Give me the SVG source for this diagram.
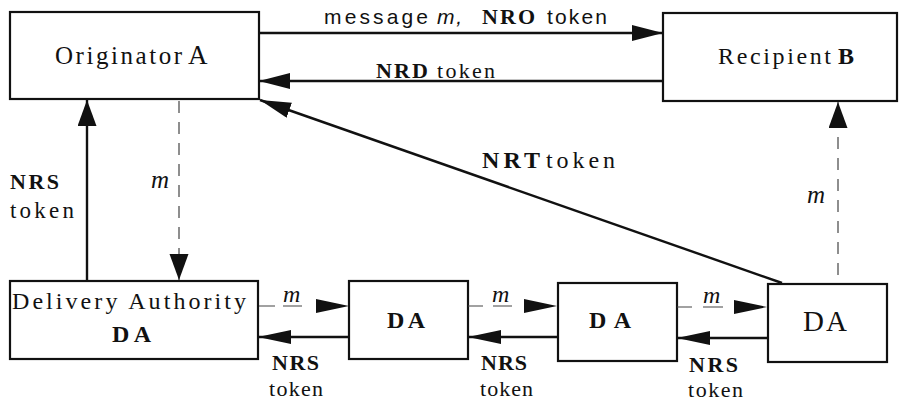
<svg xmlns="http://www.w3.org/2000/svg" width="907" height="401" viewBox="0 0 907 401">
  <style>
    .box { fill: #fff; stroke: #111; stroke-width: 2.2; }
    .serif { font-family: "Liberation Serif", "Times New Roman", serif; fill: #111; }
    .sans { font-family: "Liberation Sans", Arial, sans-serif; fill: #111; }
    .b { font-weight: bold; }
    .i { font-style: italic; }
    .solid { fill: none; stroke: #111; stroke-width: 2.4; }
    .dash { fill: none; stroke: #444; stroke-width: 1.2; }
  </style>
  <defs>
    <marker id="ah" markerUnits="userSpaceOnUse" markerWidth="32" markerHeight="17" refX="31" refY="8" orient="auto">
      <path d="M0,0 L31,8 L0,16 z" fill="#111"/>
    </marker>
    <marker id="av" markerUnits="userSpaceOnUse" markerWidth="27" markerHeight="20" refX="26" refY="9.5" orient="auto">
      <path d="M0,0 L26,9.5 L0,19 z" fill="#111"/>
    </marker>
    <marker id="ab" markerUnits="userSpaceOnUse" markerWidth="34" markerHeight="15" refX="33" refY="7" orient="auto">
      <path d="M0,0 L33,7 L0,14 z" fill="#111"/>
    </marker>
  </defs>

  <!-- nodes -->
  <g id="originator">
    <rect class="box" x="10" y="12" width="249" height="87"/>
    <text class="serif" x="55" y="64" font-size="25" textLength="127" lengthAdjust="spacing">Originator</text>
    <text class="serif" x="188" y="64" font-size="27">A</text>
  </g>
  <g id="recipient">
    <rect class="box" x="663" y="13" width="234" height="88"/>
    <text class="serif" x="718" y="64" font-size="24" textLength="113" lengthAdjust="spacing">Recipient</text>
    <text class="serif b" x="838" y="64" font-size="24">B</text>
  </g>
  <g id="da1">
    <rect class="box" x="10" y="281" width="248" height="78"/>
    <text class="serif" x="12" y="309" font-size="24" textLength="234" lengthAdjust="spacing">Delivery Authority</text>
    <text class="serif b" x="112" y="342" font-size="24" textLength="39" lengthAdjust="spacing">DA</text>
  </g>
  <g id="da2">
    <rect class="box" x="349" y="281" width="119" height="78"/>
    <text class="serif b" x="387" y="328" font-size="24" textLength="38" lengthAdjust="spacing">DA</text>
  </g>
  <g id="da3">
    <rect class="box" x="558" y="283" width="119" height="78"/>
    <text class="serif b" x="589" y="328" font-size="24" textLength="42" lengthAdjust="spacing">DA</text>
  </g>
  <g id="da4">
    <rect class="box" x="768" y="284" width="119" height="78"/>
    <text class="serif" x="803" y="331" font-size="29" textLength="44" lengthAdjust="spacing">DA</text>
  </g>

  <!-- connectors -->
  <g id="connectors">
    <!-- A to B: message m, NRO token -->
    <line class="solid" x1="259" y1="33" x2="663" y2="33" marker-end="url(#ah)"/>
    <!-- B to A: NRD token -->
    <line class="solid" x1="663" y1="81" x2="259" y2="81" marker-end="url(#ah)"/>
    <!-- last DA to A: NRT token -->
    <line class="solid" x1="782" y1="283" x2="260" y2="100" marker-end="url(#ah)"/>
    <!-- first DA to A: NRS token -->
    <line class="solid" x1="87" y1="281" x2="87" y2="100" marker-end="url(#av)"/>
    <!-- A to first DA: m -->
    <line class="dash" x1="179" y1="101" x2="179" y2="280" stroke-dasharray="12 9" marker-end="url(#av)"/>
    <!-- last DA to B: m -->
    <line class="dash" x1="838" y1="275" x2="838" y2="102" stroke-dasharray="12 9" marker-end="url(#av)"/>
    <!-- m along the DA chain -->
    <line class="dash" x1="259" y1="306" x2="349" y2="306" stroke-dasharray="16 8 19 100" marker-end="url(#ab)"/>
    <line class="dash" x1="468" y1="306" x2="557" y2="306" stroke-dasharray="15 10 19 100" marker-end="url(#ab)"/>
    <line class="dash" x1="677" y1="307" x2="767" y2="307" stroke-dasharray="15 11 20 100" marker-end="url(#ab)"/>
    <!-- NRS tokens back along the chain -->
    <line class="solid" x1="349" y1="337" x2="258" y2="337" marker-end="url(#ab)"/>
    <line class="solid" x1="558" y1="337" x2="468" y2="337" marker-end="url(#ab)"/>
    <line class="solid" x1="768" y1="338" x2="677" y2="338" marker-end="url(#ab)"/>
  </g>

  <!-- connector labels -->
  <g id="labels">
    <text class="sans" x="324" y="24" font-size="21" textLength="104" lengthAdjust="spacing">message</text>
    <text class="sans i" x="437" y="24" font-size="21" textLength="25" lengthAdjust="spacing">m,</text>
    <text class="serif b" x="482" y="24" font-size="22" textLength="53" lengthAdjust="spacing">NRO</text>
    <text class="sans" x="547" y="24" font-size="21" textLength="60" lengthAdjust="spacing">token</text>

    <text class="serif b" x="376" y="78" font-size="22" textLength="52" lengthAdjust="spacing">NRD</text>
    <text class="serif" x="437" y="78" font-size="22" textLength="58" lengthAdjust="spacing">token</text>

    <text class="serif b" x="482" y="168" font-size="24" textLength="58" lengthAdjust="spacing">NRT</text>
    <text class="serif" x="546" y="168" font-size="24" textLength="69" lengthAdjust="spacing">token</text>

    <text class="serif b" x="10" y="189" font-size="22" textLength="49" lengthAdjust="spacing">NRS</text>
    <text class="serif" x="10" y="218" font-size="23" textLength="64" lengthAdjust="spacing">token</text>

    <text class="serif i" x="151" y="188" font-size="25">m</text>
    <text class="serif i" x="807" y="203" font-size="25">m</text>

    <text class="serif i" x="283" y="302" font-size="24">m</text>
    <text class="serif i" x="492" y="302" font-size="24">m</text>
    <text class="serif i" x="703" y="303" font-size="24">m</text>

    <text class="serif b" x="272" y="370" font-size="22" textLength="47" lengthAdjust="spacing">NRS</text>
    <text class="serif" x="269" y="396" font-size="22" textLength="54" lengthAdjust="spacing">token</text>
    <text class="serif b" x="481" y="370" font-size="22" textLength="46" lengthAdjust="spacing">NRS</text>
    <text class="serif" x="480" y="396" font-size="22" textLength="53" lengthAdjust="spacing">token</text>
    <text class="serif b" x="689" y="372" font-size="22" textLength="49" lengthAdjust="spacing">NRS</text>
    <text class="serif" x="688" y="397" font-size="22" textLength="55" lengthAdjust="spacing">token</text>
  </g>
</svg>
